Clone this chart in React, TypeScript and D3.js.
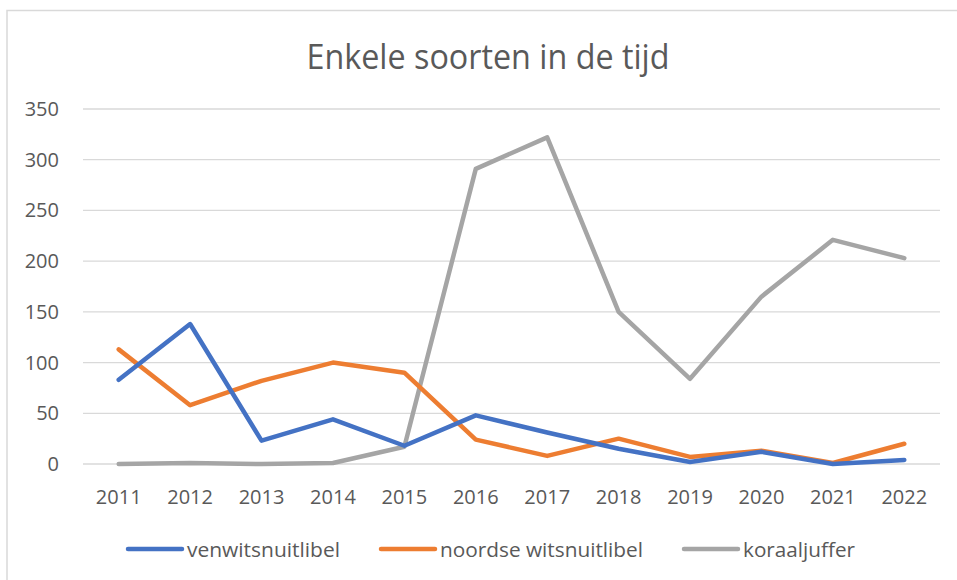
import React from "react";
import * as d3 from "d3";

const years = ["2011","2012","2013","2014","2015","2016","2017","2018","2019","2020","2021","2022"];
const venwitsnuitlibel = [83, 138, 23, 44, 18, 48, 31, 15, 2, 12, 0, 4];
const noordseWitsnuitlibel = [113, 58, 82, 100, 90, 24, 8, 25, 7, 13, 1, 20];
const koraaljuffer = [0, 1, 0, 1, 17, 291, 322, 150, 84, 165, 221, 203];
const yTicks = [0, 50, 100, 150, 200, 250, 300, 350];
const seriesNames = ["venwitsnuitlibel", "noordse witsnuitlibel", "koraaljuffer"];
const seriesColors = ["#4472C4", "#ED7D31", "#A5A5A5"];

const W = 957, H = 580;
const plot = { left: 83, right: 940, top: 109, bottom: 464 };
const font = "'Open Sans', 'Noto Sans', sans-serif";

export default function App() {
  const x = d3.scaleBand<string>().domain(years).range([plot.left, plot.right]);
  const y = d3.scaleLinear().domain([0, 350]).range([plot.bottom, plot.top]);
  const line = d3.line<number>()
    .x((_, i) => (x(years[i]) as number) + x.bandwidth() / 2)
    .y((d) => y(d));
  const allSeries = [venwitsnuitlibel, noordseWitsnuitlibel, koraaljuffer];
  const legendItems = [
    { lx: 128, tx: 187, tw: 153 },
    { lx: 381, tx: 440, tw: 203 },
    { lx: 684, tx: 743, tw: 112 },
  ];
  return (
    <svg width={W} height={H} style={{ position: "absolute", left: 0, top: 0 }}>
      <rect x={0} y={0} width={W} height={H} fill="#fff" />
      <path d={`M7,${H} L7,10.5 L${W},10.5`} fill="none" stroke="#D9D9D9" strokeWidth={1.5} />
      <text x={488} y={69} textAnchor="middle" fontFamily={font} fontSize={34} fill="#595959"
        textLength={363} lengthAdjust="spacingAndGlyphs">Enkele soorten in de tijd</text>
      {yTicks.map((t) => (
        <g key={t}>
          <line x1={plot.left} x2={plot.right} y1={y(t)} y2={y(t)} stroke="#D9D9D9" strokeWidth={1.3} />
          <text x={59} y={y(t) + 7} textAnchor="end" fontFamily={font} fontSize={20} fill="#595959">{t}</text>
        </g>
      ))}
      {years.map((yr) => (
        <text key={yr} x={(x(yr) as number) + x.bandwidth() / 2} y={504} textAnchor="middle"
          fontFamily={font} fontSize={20} fill="#595959">{yr}</text>
      ))}
      {allSeries.slice().reverse().map((s, ri) => {
        const i = allSeries.length - 1 - ri;
        return (
          <path key={i} d={line(s) as string} fill="none" stroke={seriesColors[i]} strokeWidth={4.5}
            strokeLinejoin="round" strokeLinecap="round" />
        );
      })}
      {legendItems.map((it, i) => (
        <g key={i}>
          <line x1={it.lx} x2={it.lx + 54} y1={549} y2={549} stroke={seriesColors[i]} strokeWidth={4.5} strokeLinecap="round" />
          <text x={it.tx} y={556.5} fontFamily={font} fontSize={20.5} fill="#595959"
            textLength={it.tw} lengthAdjust="spacingAndGlyphs">{seriesNames[i]}</text>
        </g>
      ))}
    </svg>
  );
}
